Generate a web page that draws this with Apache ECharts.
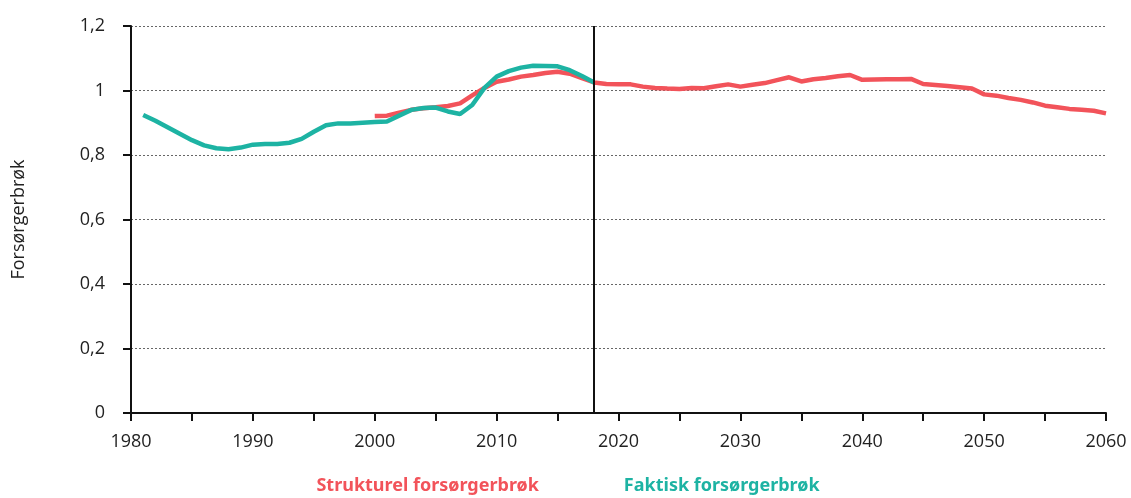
<!DOCTYPE html>
<html>
<head>
<meta charset="utf-8">
<style>
  html, body { margin: 0; padding: 0; background: #fff; }
  #chart { width: 1131px; height: 498px; }
</style>
<script src="https://cdn.jsdelivr.net/npm/echarts@6/dist/echarts.min.js"></script>
</head>
<body>
<div id="chart"></div>
<script>
// Faktisk forsørgerbrøk, 1981-2018
var faktiskStart = 1981;
var faktisk = [
  0.924, 0.906, 0.886, 0.866, 0.846, 0.830, 0.821, 0.818, 0.823, 0.832,
  0.834, 0.834, 0.838, 0.850, 0.872, 0.892, 0.898, 0.898, 0.900, 0.902,
  0.904, 0.922, 0.940, 0.946, 0.947, 0.935, 0.927, 0.955, 1.008, 1.043,
  1.060, 1.071, 1.077, 1.076, 1.075, 1.063, 1.045, 1.025
];

// Strukturel forsørgerbrøk, 2000-2060
var strukturelStart = 2000;
var strukturel = [
  0.921, 0.922, 0.931, 0.940, 0.945, 0.948, 0.952, 0.960, 0.985, 1.008,
  1.027, 1.034, 1.043, 1.048, 1.054, 1.058, 1.052, 1.038, 1.025, 1.020,
  1.019, 1.019, 1.012, 1.008, 1.006, 1.005, 1.008, 1.007, 1.013, 1.019,
  1.012, 1.018, 1.023, 1.032, 1.041, 1.028, 1.035, 1.039, 1.044, 1.048,
  1.033, 1.034, 1.035, 1.035, 1.036, 1.020, 1.017, 1.014, 1.010, 1.006,
  0.988, 0.984, 0.977, 0.971, 0.963, 0.953, 0.948, 0.943, 0.940, 0.937,
  0.929
];

var skilleAar = 2018;
var navnStrukturel = 'Strukturel forsørgerbrøk';
var navnFaktisk = 'Faktisk forsørgerbrøk';
var farveStrukturel = '#f2535a';
var farveFaktisk = '#1db3a3';
var skrift = 'Open Sans, Noto Sans, sans-serif';

function tilPar(start, vals) {
  return vals.map(function (v, i) { return [start + i, v]; });
}

var chart = echarts.init(document.getElementById('chart'));
chart.setOption({
  animation: false,
  grid: { left: 131, right: 25, top: 26, bottom: 85, outerBoundsMode: 'none' },
  legend: {
    top: 477,
    left: 'center',
    padding: 0,
    itemWidth: 0,
    itemHeight: 0,
    itemGap: 80,
    icon: 'rect',
    textStyle: { fontSize: 18, fontWeight: 'bold', fontFamily: 'Noto Sans, sans-serif' },
    data: [
      { name: navnStrukturel, textStyle: { color: farveStrukturel } },
      { name: navnFaktisk, textStyle: { color: farveFaktisk } }
    ]
  },
  xAxis: {
    type: 'value',
    min: 1980,
    max: 2060,
    interval: 5,
    axisLine: { onZero: false, lineStyle: { color: '#111', width: 2 } },
    axisTick: { show: true, length: 8, lineStyle: { color: '#111', width: 2 } },
    axisLabel: {
      color: '#222',
      fontSize: 18,
      fontFamily: skrift,
      margin: 20,
      formatter: function (v) { return v % 10 === 0 ? String(v) : ''; }
    },
    splitLine: { show: false }
  },
  yAxis: {
    type: 'value',
    min: 0,
    max: 1.2,
    interval: 0.2,
    name: 'Forsørgerbrøk',
    nameLocation: 'middle',
    nameRotate: 90,
    nameGap: 103,
    nameTextStyle: { fontSize: 18, color: '#222', fontFamily: skrift },
    axisLine: { show: true, lineStyle: { color: '#111', width: 2 } },
    axisTick: { show: true, length: 8, lineStyle: { color: '#111', width: 2 } },
    axisLabel: {
      color: '#222',
      fontSize: 18,
      fontFamily: skrift,
      margin: 26,
      formatter: function (v) { return String(Math.round(v * 10) / 10).replace('.', ','); }
    },
    splitLine: { show: true, lineStyle: { color: '#666', type: [2, 2], width: 1 } }
  },
  series: [
    {
      name: navnStrukturel,
      type: 'line',
      data: tilPar(strukturelStart, strukturel),
      showSymbol: false,
      lineStyle: { color: farveStrukturel, width: 4.5 },
      itemStyle: { color: farveStrukturel },
      z: 3
    },
    {
      name: navnFaktisk,
      type: 'line',
      data: tilPar(faktiskStart, faktisk),
      showSymbol: false,
      lineStyle: { color: farveFaktisk, width: 4.5 },
      itemStyle: { color: farveFaktisk },
      z: 4,
      markLine: {
        silent: true,
        symbol: 'none',
        label: { show: false },
        lineStyle: { color: '#111', width: 2, type: 'solid' },
        data: [{ xAxis: skilleAar }]
      }
    }
  ]
});
</script>
</body>
</html>
